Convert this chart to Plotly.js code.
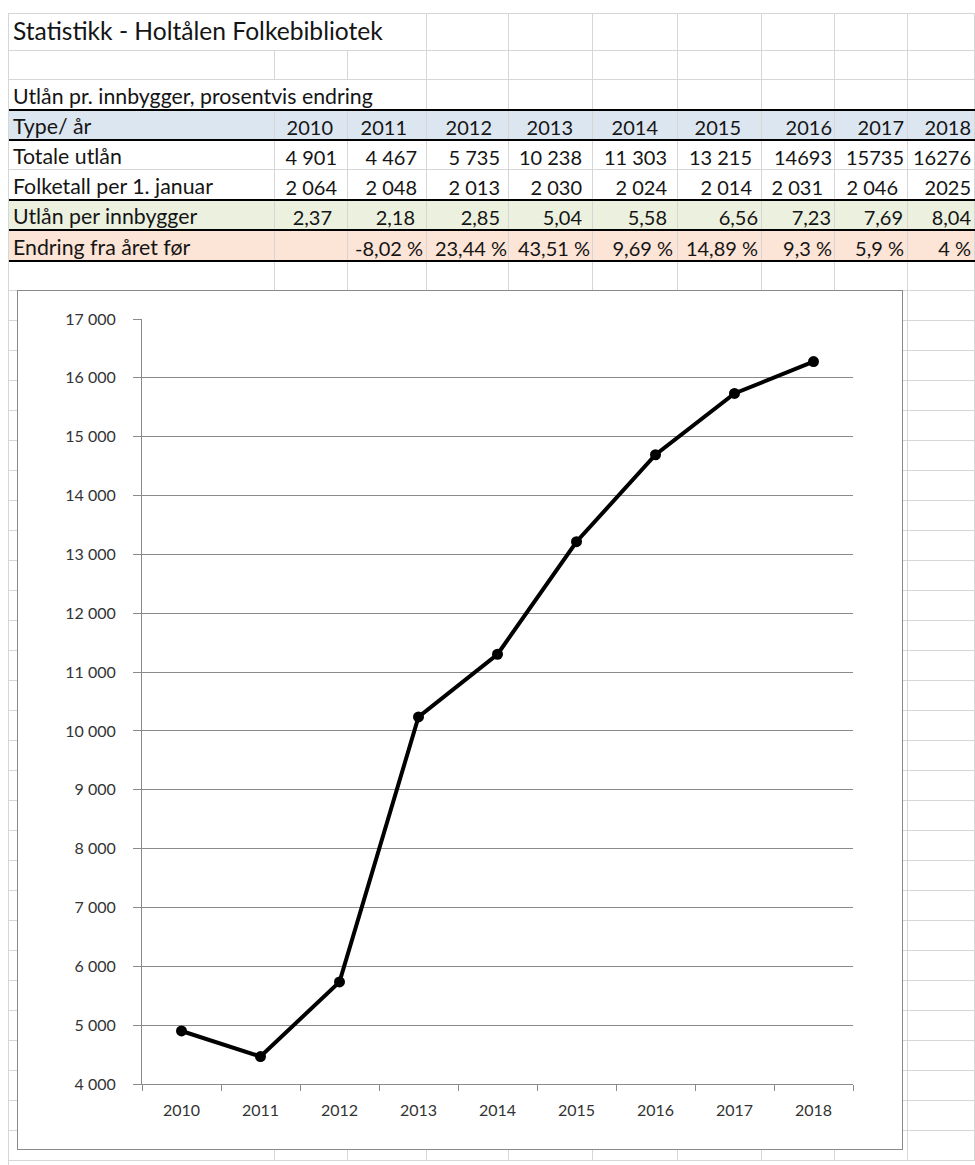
<!DOCTYPE html>
<html>
<head>
<meta charset="utf-8">
<script src="https://cdn.plot.ly/plotly-3.0.1.min.js"></script>
<style>
  html, body { margin:0; padding:0; background:#fff; }
  body { width:975px; height:1165px; position:relative; overflow:hidden; font-family:Lato, "Open Sans", sans-serif; color:#151515; }
  .cell { position:absolute; box-sizing:border-box; border-right:1px solid #d6d6d6; border-bottom:1px solid #d6d6d6;
          display:flex; align-items:flex-end; white-space:nowrap; font-size:20px; line-height:20px; padding-bottom:2px; }
  .cell.lbl { font-size:21.3px; line-height:21px; }
  .thick { position:absolute; background:#000; height:2px; }
  #chartBox { position:absolute; left:17px; top:290px; width:886px; height:860px; box-sizing:border-box;
              border:1px solid #8a8a8a; background:#fff; }
  #chart { position:absolute; left:0; top:0; width:884px; height:858px; }
</style>
</head>
<body>
<div id="sheet"></div>
<div id="chartBox"><div id="chart"></div></div>
<script>
// ---------------- data ----------------
const years = ['2010','2011','2012','2013','2014','2015','2016','2017','2018'];
const totaleUtlan = [4901, 4467, 5735, 10238, 11303, 13215, 14693, 15735, 16276];
const folketall = [2064, 2048, 2013, 2030, 2024, 2014, 2031, 2046, 2025];
const utlanPerInnbygger = [2.37, 2.18, 2.85, 5.04, 5.58, 6.56, 7.23, 7.69, 8.04];
const endringFraAret = [null, -8.02, 23.44, 43.51, 9.69, 14.89, 9.3, 5.9, 4];
const sheetTitle = 'Statistikk - Holtålen Folkebibliotek';
const sheetSubtitle = 'Utlån pr. innbygger, prosentvis endring';
const headerLabel = 'Type/ år';
const rowLabels = ['Totale utlån', 'Folketall per 1. januar', 'Utlån per innbygger', 'Endring fra året før'];

// ---------------- formatting (display only) ----------------
const groupTotale = [1,1,1,1,1,1,0,0,0];
const groupFolk   = [1,1,1,1,1,1,1,1,0];
function fmtInt(v, g) {
  const s = String(v);
  return g ? s.replace(/\B(?=(\d{3})+(?!\d))/g, ' ') : s;
}
function fmtDec(v) { return v.toFixed(2).replace('.', ','); }
function fmtPct(v) { return v === null ? '' : String(v).replace('.', ',') + ' %'; }

// ---------------- sheet geometry (layout) ----------------
const colEdges = [9, 275, 348, 427, 509, 593, 678, 762, 835, 908, 975, 1060];
const rowHeights = [37, 29, 30, 30, 30, 30, 30, 31];
while (rowHeights.length < 38) rowHeights.push(30);
const rowTops = [14];
rowHeights.forEach(h => rowTops.push(rowTops[rowTops.length-1] + h));

const padR = {
  header: [15,20,17,20,20,21,3,4,4],
  totale: [11,10,9,11,11,10,3,4,4],
  folk:   [11,10,9,11,11,10,12,10,4],
  per:    [16,12,9,11,11,4,4,5,4],
  endr:   [4,4,2,3,5,4,3,4,4]
};
const rowFill = {3:'#dce6f1', 6:'#ebf1de', 7:'#fce4d6'};

const sheet = document.getElementById('sheet');
function addCell(r, c0, c1, text, opts) {
  opts = opts || {};
  const d = document.createElement('div');
  d.className = 'cell' + (opts.align === 'right' || !text ? '' : ' lbl');
  d.style.left = colEdges[c0] + 'px';
  d.style.top = rowTops[r] + 'px';
  d.style.width = (colEdges[c1] - colEdges[c0]) + 'px';
  d.style.height = rowHeights[r] + 'px';
  if (rowFill[r]) d.style.background = rowFill[r];
  if (opts.align === 'right') { d.style.justifyContent = 'flex-end'; d.style.paddingRight = Math.max(0,(opts.pad||4)-1) + 'px'; }
  else { d.style.paddingLeft = '4px'; }
  if (opts.size) { d.style.fontSize = opts.size + 'px'; d.style.lineHeight = opts.size + 'px'; }
  if (opts.pb !== undefined) d.style.paddingBottom = opts.pb + 'px';
  d.textContent = text;
  sheet.appendChild(d);
}
// outer top/left sheet border
(function(){
  const t = document.createElement('div');
  t.style.cssText = 'position:absolute;left:9px;top:13px;width:966px;height:1px;background:#d6d6d6';
  sheet.appendChild(t);
  const l = document.createElement('div');
  l.style.cssText = 'position:absolute;left:8px;top:13px;width:1px;height:1152px;background:#d6d6d6';
  sheet.appendChild(l);
})();

const nCols = colEdges.length - 1;
for (let r = 0; r < rowHeights.length; r++) {
  if (r === 0) {
    addCell(0, 0, 3, sheetTitle, {size:24.6, pb:6});
    for (let c = 3; c < nCols; c++) addCell(0, c, c+1, '');
  } else if (r === 2) {
    addCell(2, 0, 3, sheetSubtitle);
    for (let c = 3; c < nCols; c++) addCell(2, c, c+1, '');
  } else if (r === 3) {
    addCell(3, 0, 1, headerLabel);
    years.forEach((y, i) => addCell(3, i+1, i+2, y, {align:'right', pad:padR.header[i]}));
    addCell(3, 10, 11, '');
  } else if (r === 4) {
    addCell(4, 0, 1, rowLabels[0]);
    totaleUtlan.forEach((v, i) => addCell(4, i+1, i+2, fmtInt(v, groupTotale[i]), {align:'right', pad:padR.totale[i]}));
    addCell(4, 10, 11, '');
  } else if (r === 5) {
    addCell(5, 0, 1, rowLabels[1]);
    folketall.forEach((v, i) => addCell(5, i+1, i+2, fmtInt(v, groupFolk[i]), {align:'right', pad:padR.folk[i]}));
    addCell(5, 10, 11, '');
  } else if (r === 6) {
    addCell(6, 0, 1, rowLabels[2]);
    utlanPerInnbygger.forEach((v, i) => addCell(6, i+1, i+2, fmtDec(v), {align:'right', pad:padR.per[i]}));
    addCell(6, 10, 11, '');
  } else if (r === 7) {
    addCell(7, 0, 1, rowLabels[3]);
    endringFraAret.forEach((v, i) => addCell(7, i+1, i+2, fmtPct(v), {align:'right', pad:padR.endr[i]}));
    addCell(7, 10, 11, '');
  } else {
    for (let c = 0; c < nCols; c++) addCell(r, c, c+1, '');
  }
}
[3, 4, 6, 7, 8].forEach(ri => {
  const t = document.createElement('div');
  t.className = 'thick';
  t.style.left = '9px'; t.style.width = '966px';
  t.style.top = (rowTops[ri] - 1) + 'px';
  sheet.appendChild(t);
});

// ---------------- chart ----------------
const axisGrey = '#8a8a8a';
const tickFont = {family:'Lato, "Open Sans", sans-serif', size:16, color:'#333333'};
Plotly.newPlot('chart', [{
  type:'scatter', mode:'lines+markers',
  x: years, y: totaleUtlan,
  line:{color:'#000', width:4},
  marker:{color:'#000', size:11, symbol:'circle'},
  hoverinfo:'skip', showlegend:false
}], {
  width:884, height:858,
  margin:{l:124, r:49, t:28, b:65},
  paper_bgcolor:'#fff', plot_bgcolor:'#fff',
  separators:', ',
  showlegend:false,
  xaxis:{
    type:'category', range:[-0.5, 8.5], fixedrange:true,
    showgrid:false, zeroline:false,
    showline:true, linecolor:axisGrey, linewidth:1,
    ticks:'outside', tickson:'boundaries', ticklen:6, tickcolor:axisGrey, tickwidth:1,
    tickfont:tickFont, ticklabelstandoff:12
  },
  yaxis:{
    range:[4000, 17000], dtick:1000, tick0:0, tickformat:',d', fixedrange:true,
    showgrid:true, gridcolor:axisGrey, gridwidth:1, zeroline:false,
    showline:true, linecolor:axisGrey, linewidth:1,
    ticks:'outside', ticklen:8, tickcolor:axisGrey, tickwidth:1,
    tickfont:tickFont, ticklabelstandoff:14
  }
}, {displayModeBar:false, staticPlot:true});
</script>
</body>
</html>
